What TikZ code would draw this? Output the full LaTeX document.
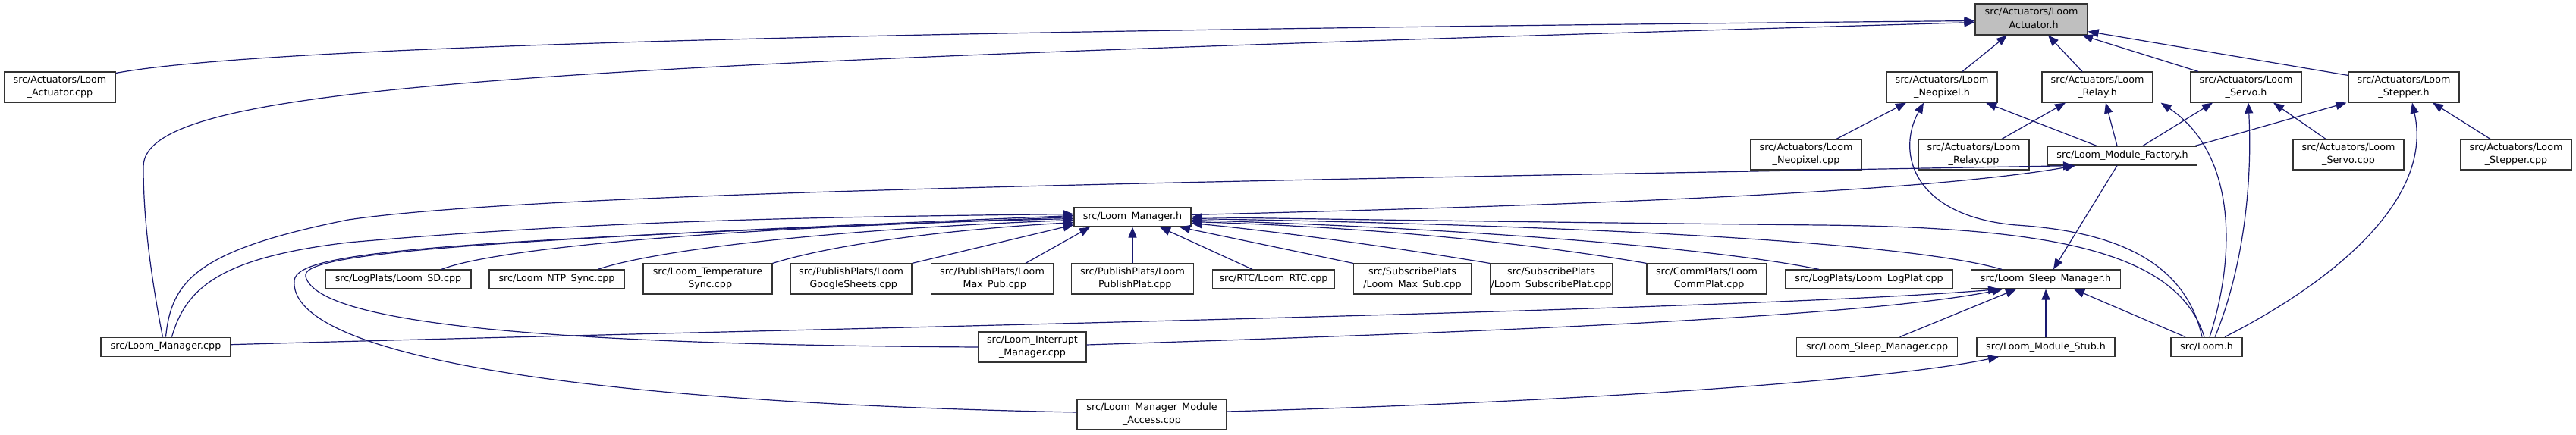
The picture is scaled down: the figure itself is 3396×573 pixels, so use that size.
\documentclass[tikz,border=0pt]{standalone}
\usepackage{fontspec}
\setmainfont{DejaVu Sans}
\usetikzlibrary{arrows.meta,calc}
\definecolor{edgecol}{HTML}{191970}
\definecolor{nodeline}{HTML}{333333}
\definecolor{curfill}{HTML}{BFBFBF}
\tikzset{
  box/.style={draw=nodeline, line width=1.2pt, fill=white, rectangle, inner sep=0pt,
    align=center, font=\fontsize{12.7}{17.3}\selectfont},
  two/.style={box, minimum height=40pt},
  one/.style={box, minimum height=25pt},
  edge/.style={draw=edgecol, line width=1.2pt, -{Triangle[length=14pt,width=11pt]}}
}
\begin{document}
\begin{tikzpicture}[x=1pt,y=-1pt]
\useasboundingbox (0,0) rectangle (3396,573);
% nodes
\node[two, fill=curfill, minimum width=148pt, minimum height=41pt] (A) at (2678,25.5) {src/Actuators/Loom\\\_Actuator.h};
\node[two, minimum width=147pt] (Acpp) at (79,115) {src/Actuators/Loom\\\_Actuator.cpp};
\node[two, minimum width=146pt] (Neo) at (2560,115) {src/Actuators/Loom\\\_Neopixel.h};
\node[two, minimum width=146pt] (Rel) at (2765,115) {src/Actuators/Loom\\\_Relay.h};
\node[two, minimum width=146pt] (Ser) at (2961,115) {src/Actuators/Loom\\\_Servo.h};
\node[two, minimum width=146pt] (Step) at (3169,115) {src/Actuators/Loom\\\_Stepper.h};
\node[two, minimum width=146pt] (NeoC) at (2381,204) {src/Actuators/Loom\\\_Neopixel.cpp};
\node[two, minimum width=146pt] (RelC) at (2602,204) {src/Actuators/Loom\\\_Relay.cpp};
\node[one, minimum width=197pt] (Fac) at (2798,205.5) {src/Loom\_Module\_Factory.h};
\node[two, minimum width=146pt] (SerC) at (3096,204) {src/Actuators/Loom\\\_Servo.cpp};
\node[two, minimum width=146pt] (StepC) at (3317,204) {src/Actuators/Loom\\\_Stepper.cpp};
\node[one, minimum width=154pt] (Man) at (1493,286.5) {src/Loom\_Manager.h};
\node[one, minimum width=192pt] (SD) at (525,368.5) {src/LogPlats/Loom\_SD.cpp};
\node[one, minimum width=178pt] (NTP) at (734,368.5) {src/Loom\_NTP\_Sync.cpp};
\node[two, minimum width=170pt] (Temp) at (933,368) {src/Loom\_Temperature\\\_Sync.cpp};
\node[two, minimum width=160pt] (GS) at (1122,368) {src/PublishPlats/Loom\\\_GoogleSheets.cpp};
\node[two, minimum width=161pt] (MaxPub) at (1308,368) {src/PublishPlats/Loom\\\_Max\_Pub.cpp};
\node[two, minimum width=161pt] (PubPlat) at (1493,368) {src/PublishPlats/Loom\\\_PublishPlat.cpp};
\node[one, minimum width=161pt] (RTC) at (1679,368.5) {src/RTC/Loom\_RTC.cpp};
\node[two, minimum width=155pt] (MaxSub) at (1862,368) {src/SubscribePlats\\/Loom\_Max\_Sub.cpp};
\node[two, minimum width=161pt] (SubPlat) at (2045,368) {src/SubscribePlats\\/Loom\_SubscribePlat.cpp};
\node[two, minimum width=158pt] (CommPlat) at (2250,368) {src/CommPlats/Loom\\\_CommPlat.cpp};
\node[one, minimum width=220pt] (LogPlat) at (2464,368.5) {src/LogPlats/Loom\_LogPlat.cpp};
\node[one, minimum width=197pt] (SleepH) at (2697,368.5) {src/Loom\_Sleep\_Manager.h};
\node[one, minimum width=171pt] (ManC) at (218.5,457.7) {src/Loom\_Manager.cpp};
\node[two, minimum width=142pt] (Intr) at (1361,458) {src/Loom\_Interrupt\\\_Manager.cpp};
\node[two, minimum width=197pt] (Acc) at (1518.5,547) {src/Loom\_Manager\_Module\\\_Access.cpp};
\node[one, minimum width=212pt] (SleepC) at (2474.6,457.7) {src/Loom\_Sleep\_Manager.cpp};
\node[one, minimum width=182pt] (Stub) at (2697,457.7) {src/Loom\_Module\_Stub.h};
\node[one, minimum width=94pt] (LoomH) at (2909,457.7) {src/Loom.h};
% edges to Loom_Actuator.h
\draw[edge] ($(Acpp.north east)+(0,2)$) .. controls (350,60) and (1200,40) .. ($(A.west)+(0,2)$);
\draw[edge] ($(ManC.north)+(-4,0)$) .. controls (192,330) and (189,260) .. (189,220) .. controls (189,110) and (700,85) .. ($(A.west)+(0,4)$);
\draw[edge] ($(Neo.north)+(27,0)$) -- ($(A.south)+(-32,0)$);
\draw[edge] ($(Rel.north)+(-20,0)$) -- ($(A.south)+(22,0)$);
\draw[edge] ($(Ser.north)+(-63,0)$) -- ($(A.south)+(67,0)$);
\draw[edge] ($(Step.north west)+(0,5)$) -- ($(A.east)+(0,16)$);
% second row headers
\draw[edge] ($(NeoC.north)+(40,0)$) -- ($(Neo.south)+(-47,0)$);
\draw[edge] ($(Fac.north)+(-34,0)$) -- ($(Neo.south)+(58,0)$);
\draw[edge] ($(LoomH.north)+(-6,0)$) .. controls (2880,340) and (2780,305) .. (2658,297) .. controls (2520,285) and (2500,200) .. ($(Neo.south)+(-24,0)$);
\draw[edge] ($(RelC.north)+(37,0)$) -- ($(Rel.south)+(-42,0)$);
\draw[edge] ($(Fac.north)+(-7,0)$) -- ($(Rel.south)+(11,0)$);
\draw[edge] ($(LoomH.north)+(4,0)$) .. controls (2950,330) and (2945,200) .. ($(Rel.south east)+(10,0)$);
\draw[edge] ($(Fac.north)+(27,0)$) -- ($(Ser.south)+(-44,0)$);
\draw[edge] ($(SerC.north)+(-30,0)$) -- ($(Ser.south)+(36,0)$);
\draw[edge] ($(LoomH.north)+(11,0)$) .. controls (2955,360) and (2970,250) .. ($(Ser.south)+(3,0)$);
\draw[edge] ($(Fac.north east)+(-3,0)$) -- ($(Step.south west)+(-2,0)$);
\draw[edge] ($(StepC.north)+(-34,0)$) -- ($(Step.south)+(38,0)$);
\draw[edge] ($(LoomH.north)+(24,0)$) .. controls (3060,380) and (3210,270) .. ($(Step.south)+(11,0)$);
% module factory
\draw[edge] (ManC.north) .. controls (226,370) and (260,330) .. (459,290) .. controls (700,255) and (1500,240) .. ($(Fac.south)+(-64,0)$);
\draw[edge] ($(Man.east)+(0,-3)$) .. controls (1900,275) and (2500,260) .. ($(Fac.south)+(-62,0)$);
\draw[edge] ($(Fac.south)+(-7,0)$) -- ($(SleepH.north)+(10,0)$);
% into Loom_Manager.h
\draw[edge] ($(SD.north)+(57,0)$) .. controls (660,325) and (1000,298) .. ($(Man.west)+(0,2)$);
\draw[edge] ($(NTP.north)+(54,0)$) .. controls (880,325) and (1150,300) .. ($(Man.west)+(0,4)$);
\draw[edge] (Temp.north east) .. controls (1100,322) and (1250,303) .. ($(Man.west)+(0,7)$);
\draw[edge] (GS.north east) -- ($(Man.south west)+(0,-3)$);
\draw[edge] ($(MaxPub.north)+(44,0)$) -- ($(Man.south)+(-56,0)$);
\draw[edge] (PubPlat.north) -- (Man.south);
\draw[edge] ($(RTC.north)+(-28,0)$) -- ($(Man.south)+(36,0)$);
\draw[edge] (MaxSub.north west) -- ($(Man.south)+(62,0)$);
\draw[edge] (SubPlat.north west) .. controls (1800,320) and (1650,302) .. ($(Man.east)+(0,8)$);
\draw[edge] (CommPlat.north west) .. controls (2000,318) and (1800,300) .. ($(Man.east)+(0,6)$);
\draw[edge] ($(LogPlat.north)+(-66,0)$) .. controls (2250,325) and (1900,300) .. ($(Man.east)+(0,4)$);
\draw[edge] ($(SleepH.north)+(-58,0)$) .. controls (2500,315) and (2000,296) .. ($(Man.east)+(0,2)$);
\draw[edge] ($(LoomH.north)+(-3,0)$) .. controls (2870,330) and (2700,300) .. (2400,297) .. controls (2000,293) and (1750,289) .. (Man.east);
\draw[edge] ($(ManC.north)+(8,0)$) .. controls (245,380) and (290,340) .. (459,320) .. controls (800,290) and (1100,286) .. ($(Man.west)+(0,-4)$);
\draw[edge] (Intr.west) .. controls (750,455) and (420,430) .. (403,365) .. controls (395,335) and (600,318) .. ($(Man.west)+(0,-2)$);
\draw[edge] ($(Acc.west)+(0,-3)$) .. controls (700,530) and (380,460) .. (388,370) .. controls (392,330) and (600,318) .. (Man.west);
% into Loom_Sleep_Manager.h
\draw[edge] ($(ManC.east)+(0,-3)$) .. controls (1000,435) and (2300,410) .. ($(SleepH.south)+(-62,0)$);
\draw[edge] ($(Intr.east)+(0,-3)$) .. controls (1900,440) and (2450,420) .. ($(SleepH.south)+(-57,0)$);
\draw[edge] ($(SleepC.north)+(30,0)$) -- ($(SleepH.south)+(-39,0)$);
\draw[edge] (Stub.north) -- (SleepH.south);
\draw[edge] ($(LoomH.north)+(-28,0)$) -- ($(SleepH.south)+(37,0)$);
\draw[edge] ($(Acc.east)+(0,-4)$) .. controls (2100,530) and (2500,500) .. ($(Stub.south)+(-62,0)$);
\end{tikzpicture}
\end{document}
